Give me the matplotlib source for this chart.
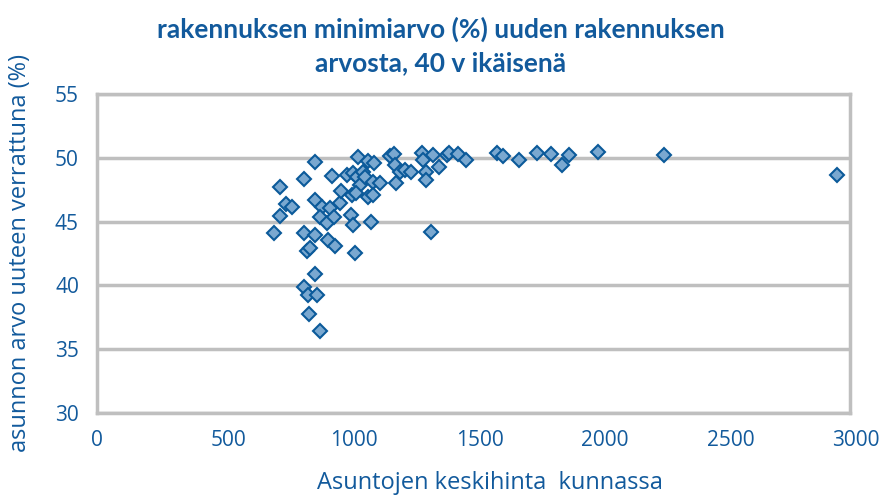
import matplotlib
matplotlib.use("Agg")
import matplotlib.pyplot as plt
from matplotlib.transforms import ScaledTranslation

# average dwelling price in municipality vs. value relative to new (%)
hinta = [
    705, 728, 729, 752, 777, 826, 825, 868, 835, 849,
    870, 870, 895, 888, 918, 930, 944, 922, 950, 969,
    971, 938, 998, 1015, 1013, 1021, 1026, 1093, 1038, 1021,
    1035, 1061, 1081, 1102, 1048, 1068, 1101, 1129, 1032, 1081,
    1100, 1167, 1183, 1187, 1207, 1227, 1251, 1191, 1294, 1298,
    1337, 1311, 1311, 1364, 1393, 1404, 1438, 1472, 1592, 1619,
    1681, 1752, 1808, 1880, 1854, 1997, 2259, 2947, 1331, 868,
    823, 842, 875, 846, 888,
]
arvo = [
    44.07, 47.74, 45.43, 46.35, 46.17, 48.31, 44.07, 43.91, 42.68, 42.91,
    49.65, 46.69, 46.17, 45.35, 44.86, 46.06, 45.38, 43.54, 43.11, 46.43,
    47.39, 48.56, 48.66, 47.09, 45.55, 44.76, 42.52, 45.00, 50.08, 48.80,
    48.53, 48.90, 49.75, 49.58, 47.83, 48.53, 48.13, 48.01, 47.22, 46.95,
    47.09, 50.16, 50.30, 49.41, 48.86, 49.02, 48.90, 48.03, 50.39, 49.84,
    50.24, 48.87, 48.23, 49.31, 50.24, 50.37, 50.33, 49.84, 50.39, 50.16,
    49.79, 50.37, 50.31, 50.24, 49.45, 50.42, 50.18, 48.66, 44.20, 40.91,
    39.88, 39.21, 39.21, 37.77, 36.39,
]

x_ticks = [0, 500, 1000, 1500, 2000, 2500, 3000]
y_ticks = [30, 35, 40, 45, 50, 55]

teksti = "#125a9c"
harmaa = "#bfbfbf"
fontti = ["Open Sans", "DejaVu Sans"]

fig = plt.figure(figsize=(8.9, 4.97), dpi=100)
ax = fig.add_axes([0.109, 0.169, 0.846, 0.642])

ax.plot(hinta, arvo, linestyle="none", marker="D", markersize=7.3,
        markerfacecolor="#7aa8d0", markeredgecolor="#0b5a9a",
        markeredgewidth=1.5, zorder=3)

ax.set_xlim(0, 3000)
ax.set_ylim(30, 55)
ax.set_xticks(x_ticks)
ax.set_yticks(y_ticks)
ax.yaxis.grid(True, color=harmaa, linewidth=2.5)
ax.set_axisbelow(True)
for s in ax.spines.values():
    s.set_color(harmaa)
    s.set_linewidth(2.5)
ax.tick_params(length=0, labelsize=15, labelcolor=teksti)
ax.tick_params(axis="x", pad=12)
ax.tick_params(axis="y", pad=13)
siirto = ScaledTranslation(6 / 100, 0, fig.dpi_scale_trans)
for lab in ax.get_xticklabels()[1:]:
    lab.set_transform(lab.get_transform() + siirto)
for lab in ax.get_xticklabels() + ax.get_yticklabels():
    lab.set_family(fontti)

ax.set_xlabel("Asuntojen keskihinta  kunnassa", fontsize=17, color=teksti,
              family=fontti)
ax.xaxis.set_label_coords(0.522, -0.183)
ax.set_ylabel("asunnon arvo uuteen verrattuna (%)", fontsize=17, color=teksti,
              family=fontti)
ax.yaxis.set_label_coords(-0.086, 0.5)

fig.text(0.495, 0.908, "rakennuksen minimiarvo (%) uuden rakennuksen\narvosta, 40 v ikäisenä",
         ha="center", va="center", fontsize=19, fontweight="bold", color=teksti,
         family=["Lato", "DejaVu Sans"], linespacing=1.45)

fig.savefig("out.png", dpi=100)
